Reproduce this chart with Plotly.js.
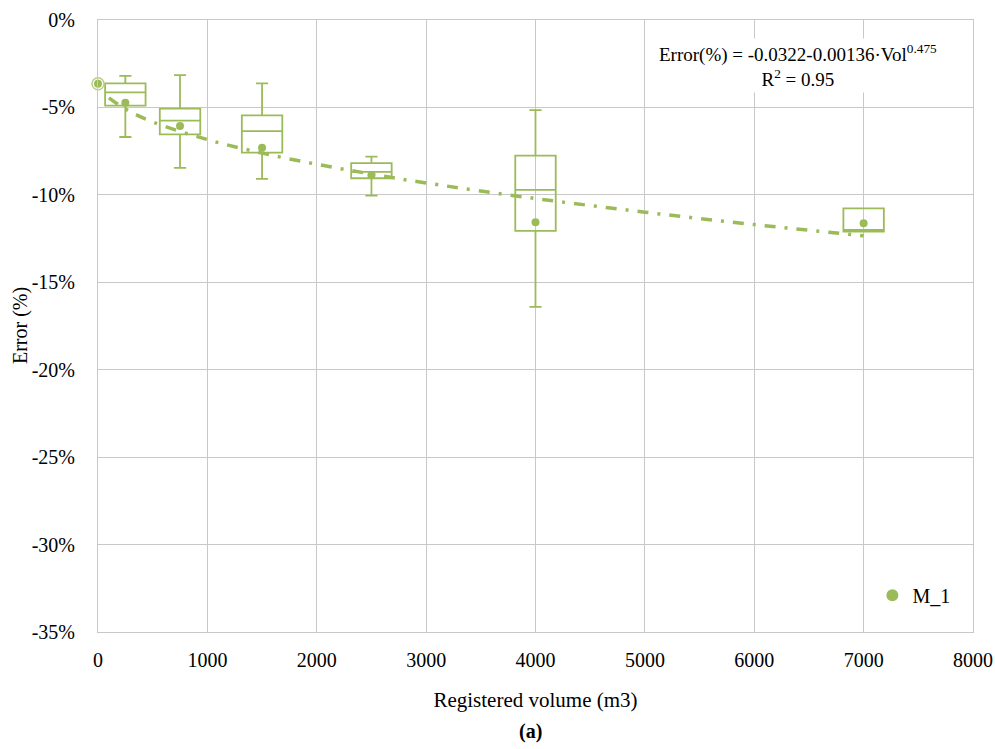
<!DOCTYPE html>
<html>
<head>
<meta charset="utf-8">
<script src="https://cdn.plot.ly/plotly-3.0.1.min.js"></script>
<style>
html,body{margin:0;padding:0;background:#fff;}
#chart{width:995px;height:749px;}
</style>
</head>
<body>
<div id="chart"></div>
<script>
// Box positions (registered volume, m3)
const boxX = [250, 750, 1500, 2500, 4000, 7000];
// Box statistics (Error %)
const upperWhisker = [-3.20, -3.15, -3.62, -7.81, -5.15, -10.77];
const q3Values     = [-3.62, -5.07, -5.45, -8.18, -7.76, -10.77];
const medians      = [-4.14, -5.76, -6.35, -8.69, -9.72, -12.00];
const q1Values     = [-4.90, -6.54, -7.59, -9.05, -12.06, -12.10];
const lowerWhisker = [-6.69, -8.46, -9.09, -10.04, -16.41, -12.10];
// Mean markers (series M_1)
const meanValues   = [-4.73, -6.06, -7.30, -8.88, -11.57, -11.63];
// Point at origin
const originX = [0];
const originY = [-3.65];
// Fitted trend line
const trendX = [100, 250, 500, 1000, 1500, 2000, 2500, 3000, 4000, 5000, 6000, 7000];
const trendY = [-4.45, -5.09, -5.83, -6.84, -7.61, -8.25, -8.81, -9.32, -10.21, -10.99, -11.70, -12.34];
// Axis ticks
const xTicks = [0, 1000, 2000, 3000, 4000, 5000, 6000, 7000, 8000];
const yTicks = [0, -5, -10, -15, -20, -25, -30, -35];
const yTickText = ['0%', '-5%', '-10%', '-15%', '-20%', '-25%', '-30%', '-35%'];

const green = '#9bbb59';
const font = 'Liberation Serif';

const traces = [];
// boxes
traces.push({
  type: 'box',
  x: boxX,
  q1: q1Values,
  median: medians,
  q3: q3Values,
  lowerfence: lowerWhisker,
  upperfence: upperWhisker,
  width: 370,
  whiskerwidth: 0.3,
  fillcolor: 'rgba(0,0,0,0)',
  line: {color: green, width: 1.8},
  boxpoints: false,
  showlegend: false,
  hoverinfo: 'skip'
});
// trend line
traces.push({
  type: 'scatter',
  mode: 'lines',
  x: trendX,
  y: trendY,
  line: {color: green, width: 3.5, dash: '11px,9px,3px,9px', shape: 'spline'},
  showlegend: false,
  hoverinfo: 'skip'
});
// origin point (ring)
traces.push({
  type: 'scatter', mode: 'markers',
  x: originX, y: originY,
  marker: {symbol: 'circle-open', size: 12, color: '#b8d08a', line: {width: 1.5}},
  showlegend: false, hoverinfo: 'skip', cliponaxis: false
});
traces.push({
  type: 'scatter', mode: 'markers',
  x: originX, y: originY,
  marker: {symbol: 'circle', size: 8, color: green},
  showlegend: false, hoverinfo: 'skip', cliponaxis: false
});
// means
traces.push({
  type: 'scatter', mode: 'markers',
  name: 'M_1',
  x: boxX, y: meanValues,
  marker: {symbol: 'circle', size: 8, color: green}
});

const layout = {
  width: 995, height: 749,
  margin: {l: 98, r: 22, t: 20, b: 117},
  paper_bgcolor: '#fff',
  plot_bgcolor: '#fff',
  font: {family: font, size: 19, color: '#000'},
  showlegend: true,
  legend: {
    x: 0.885, y: 0.06, xanchor: 'left', yanchor: 'middle',
    bgcolor: 'rgba(255,255,255,0)',
    font: {family: font, size: 20},
    itemsizing: 'constant'
  },
  xaxis: {
    range: [0, 8000],
    tickvals: xTicks,
    ticktext: xTicks.map(String),
    showgrid: true, gridcolor: '#c8c8c8', gridwidth: 1,
    showline: true, linecolor: '#c8c8c8', linewidth: 1, mirror: true,
    zeroline: false,
    ticks: '', ticklen: 0,
    ticklabelstandoff: 10,
    tickfont: {family: font, size: 20},
    title: {text: 'Registered volume (m3)', font: {family: font, size: 21}, standoff: 22}
  },
  yaxis: {
    range: [-35, 0],
    tickvals: yTicks,
    ticktext: yTickText,
    showgrid: true, gridcolor: '#c8c8c8', gridwidth: 1,
    showline: true, linecolor: '#c8c8c8', linewidth: 1, mirror: true,
    zeroline: false,
    ticks: '', ticklen: 0,
    ticklabelstandoff: 18,
    tickfont: {family: font, size: 20},
    title: {text: ''}
  },
  annotations: [
    {
      xref: 'paper', yref: 'paper',
      x: 0.8, y: 0.926, xanchor: 'center', yanchor: 'middle',
      text: 'Error(%) = -0.0322-0.00136·Vol<sup>0.475</sup><br>R<sup>2</sup> = 0.95',
      showarrow: false,
      align: 'center',
      bgcolor: '#ffffff',
      borderpad: 2,
      font: {family: font, size: 19, color: '#000'}
    },
    {
      xref: 'paper', yref: 'paper',
      x: -0.0891, y: 0.5, xanchor: 'center', yanchor: 'middle',
      text: 'Error (%)',
      textangle: -90,
      showarrow: false,
      font: {family: font, size: 20, color: '#000'}
    },
    {
      xref: 'paper', yref: 'paper',
      x: 0.4943, y: -0.162, xanchor: 'center', yanchor: 'middle',
      text: '<b>(a)</b>',
      showarrow: false,
      font: {family: font, size: 20, color: '#000'}
    }
  ]
};

Plotly.newPlot('chart', traces, layout, {displayModeBar: false, staticPlot: true});
</script>
</body>
</html>
